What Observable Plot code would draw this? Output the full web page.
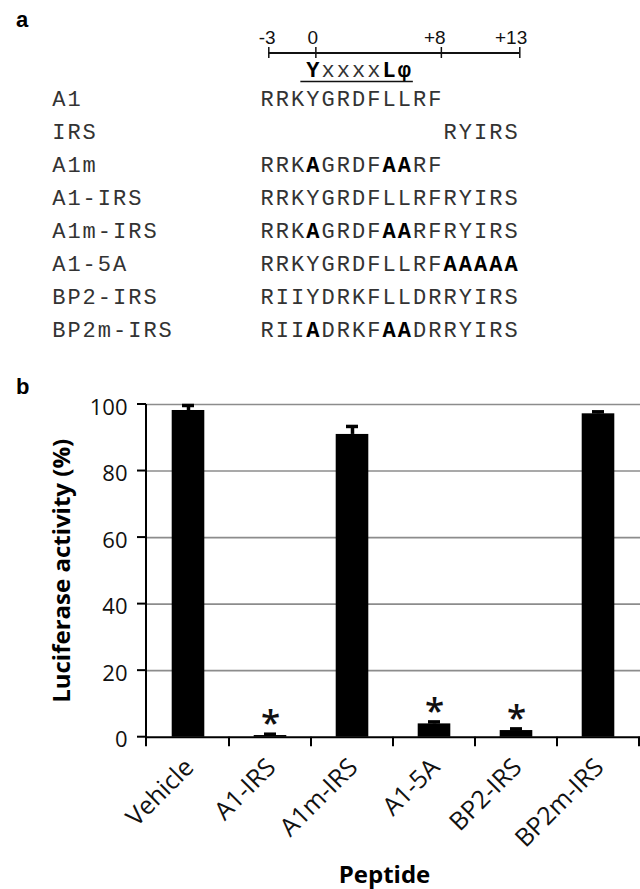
<!DOCTYPE html>
<html><head><meta charset="utf-8">
<script src="https://cdn.jsdelivr.net/npm/d3@7"></script>
<script src="https://cdn.jsdelivr.net/npm/@observablehq/plot@0.6"></script>
<style>
html,body{margin:0;padding:0;background:#fff;}
#wrap{position:relative;width:640px;height:889px;overflow:hidden;background:#fff;}
.plab{position:absolute;left:16px;font:bold 22px "Liberation Sans", Arial, sans-serif;line-height:22px;color:#000;}
</style></head><body>
<div id="wrap"></div>
<script>
// ---------- Panel a data ----------
const peptides = ["A1","IRS","A1m","A1-IRS","A1m-IRS","A1-5A","BP2-IRS","BP2m-IRS"];
const sequences = ["RRKYGRDFLLRF","RYIRS","RRK[A]GRDF[AA]RF","RRKYGRDFLLRFRYIRS","RRK[A]GRDF[AA]RFRYIRS","RRKYGRDFLLRF[AAAAA]","RIIYDRKFLLDRRYIRS","RII[A]DRKF[AA]DRRYIRS"];
const seqStart = [-3, 9, -3, -3, -3, -3, -3, -3];
const motif = "[Y]xxxx[Lφ]";
const motifStart = 0;
const rulerTicks = [-3, 0, 8, 13];
const rulerLabels = ["-3","0","+8","+13"];

// ---------- Panel b data ----------
const categories = ["Vehicle","A1-IRS","A1m-IRS","A1-5A","BP2-IRS","BP2m-IRS"];
const activity = [98.2, 0.5, 91.0, 4.0, 2.0, 97.2];
const errorUp = [1.5, 0.4, 2.4, 0.6, 0.5, 0.6];
const significant = [false, true, false, true, true, false];
const yTicks = [0, 20, 40, 60, 80, 100];
const yTitle = "Luciferase activity (%)";
const xTitle = "Peptide";

function parseSeq(s, start) {
  const out = []; let bold = false; let k = 0;
  for (const ch of s) {
    if (ch === "[") { bold = true; continue; }
    if (ch === "]") { bold = false; continue; }
    out.push({pos: start + k, ch, bold}); k++;
  }
  return out;
}

const monoFont = "Liberation Mono, Courier New, monospace";
const sans = "Open Sans, Noto Sans, sans-serif";

// sequences (with ruler labels and motif)
const rows = [];
peptides.forEach((p, r) => parseSeq(sequences[r], seqStart[r]).forEach(c => rows.push({row: p, ...c})));
const motifChars = parseSeq(motif, motifStart);
const seqText = {lineAnchor: "bottom", fontSize: 22, fontFamily: monoFont};
const seqPlot = Plot.plot({
  width: 640, height: 360,
  marginLeft: 266.6, marginRight: 129.4, marginTop: 105, marginBottom: 24,
  x: {domain: [rulerTicks[0], rulerTicks[rulerTicks.length - 1]], axis: null},
  y: {type: "point", domain: peptides, padding: 0, axis: null},
  marks: [
    Plot.text(rulerTicks, {x: d => d, frameAnchor: "top", text: (d, i) => rulerLabels[i], lineAnchor: "bottom", dy: -62, fontSize: 19, fontFamily: "Liberation Sans, Arial, sans-serif", fill: "#111"}),
    Plot.text(peptides, {y: d => d, frameAnchor: "left", textAnchor: "start", dx: -214.9, ...seqText, fill: "#333"}),
    Plot.text(rows.filter(d => !d.bold), {x: "pos", y: "row", text: "ch", ...seqText, fill: "#333"}),
    Plot.text(rows.filter(d => d.bold), {x: "pos", y: "row", text: "ch", ...seqText, fontWeight: "bold", fill: "#000"}),
    Plot.text(motifChars.filter(d => !d.bold), {x: "pos", frameAnchor: "top", text: "ch", dy: -29, ...seqText, fill: "#333"}),
    Plot.text(motifChars.filter(d => d.bold), {x: "pos", frameAnchor: "top", text: "ch", dy: -29, ...seqText, fontWeight: "bold", fill: "#000"}),
    Plot.ruleY([peptides[0]], {x1: motifStart, x2: motifStart + motifChars.length - 1, dy: -24, insetLeft: -12, insetRight: -9, stroke: "#111", strokeWidth: 1.5})
  ]
});
d3.select(seqPlot).selectAll("text").filter(function() { return this.textContent.length > 1 && !this.textContent.match(/^[-+]?\d+$/); }).attr("letter-spacing", 2);

// ruler line and ticks (overlay)
const ruler = Plot.plot({
  width: 640, height: 60,
  marginLeft: 268.3, marginRight: 120.7, marginTop: 47, marginBottom: 2,
  style: {background: "transparent"},
  x: {domain: [rulerTicks[0], rulerTicks[rulerTicks.length - 1]], axis: null},
  y: {domain: [-1, 1], axis: null},
  marks: [
    Plot.ruleY([0], {x1: rulerTicks[0], x2: rulerTicks[rulerTicks.length - 1], stroke: "#111", strokeWidth: 2}),
    Plot.ruleX(rulerTicks, {y1: -1, y2: 1, stroke: "#111", strokeWidth: 1.5})
  ]
});

// bars
const barData = categories.map((c, i) => ({peptide: c, value: activity[i], err: errorUp[i], sig: significant[i]}));
const axesMark = (index, scales, values, dims) => {
  const {x, y} = scales;
  const g = d3.create("svg:g").attr("stroke", "#000").attr("stroke-width", 2).attr("fill", "none");
  const x0 = dims.marginLeft, y0 = y(0), tick = 9.5;
  g.append("line").attr("x1", x0).attr("x2", x0).attr("y1", y(yTicks[yTicks.length - 1])).attr("y2", y0 + tick);
  for (const t of yTicks) g.append("line").attr("x1", x0 - 9).attr("x2", x0).attr("y1", y(t)).attr("y2", y(t));
  const bw = x.bandwidth();
  for (const c of categories) {
    const b = x(c) + bw;
    g.append("line").attr("x1", b).attr("x2", b).attr("y1", y0).attr("y2", y0 + tick);
  }
  return g.node();
};
const barPlot = Plot.plot({
  width: 640, height: 529,
  marginLeft: 146, marginRight: 0, marginTop: 44, marginBottom: 152.3,
  x: {domain: categories, padding: 0, axis: null},
  y: {domain: [0, 100], axis: null},
  marks: [
    Plot.ruleY(yTicks.filter(t => t > 0), {stroke: "#8c8c8c", strokeWidth: 1.6}),
    Plot.barY(barData, {x: "peptide", y: "value", fill: "#000", insetLeft: 24.7, insetRight: 24.7}),
    Plot.ruleX(barData, {x: "peptide", y1: "value", y2: d => d.value + d.err, stroke: "#000", strokeWidth: 3.5}),
    Plot.tickY(barData, {x: "peptide", y: d => d.value + d.err, stroke: "#000", strokeWidth: 3.5, insetLeft: 35, insetRight: 35}),
    Plot.ruleY([0], {stroke: "#000", strokeWidth: 2}),
    axesMark,
    Plot.text(yTicks, {y: d => d, frameAnchor: "left", textAnchor: "end", dx: -19, dy: 3, fontSize: 22, fontFamily: sans, fill: "#111"}),
    Plot.text(categories, {x: d => d, frameAnchor: "bottom", rotate: -45, textAnchor: "end", lineAnchor: "middle", dx: 1, dy: 26, fontSize: 25, fontFamily: sans, fill: "#111"}),
    Plot.text(barData.filter(d => d.sig), {x: "peptide", y: d => d.value + d.err, text: () => "*", dy: -10.5, fontSize: 35, fontWeight: 600, fontFamily: sans, fill: "#111"}),
    Plot.text([yTitle], {frameAnchor: "left", rotate: -90, textAnchor: "middle", lineAnchor: "middle", dx: -84, fontSize: 24, fontWeight: "bold", fontFamily: sans, fill: "#000"}),
    Plot.text([xTitle], {frameAnchor: "bottom", textAnchor: "middle", lineAnchor: "bottom", dx: -9, dy: 145.3, fontSize: 24, fontWeight: "bold", fontFamily: sans, fill: "#000"})
  ]
});

const wrap = document.getElementById("wrap");
function place(node, top) { node.style.position = "absolute"; node.style.top = top + "px"; node.style.left = "0px"; wrap.appendChild(node); }
place(seqPlot, 0);
place(ruler, 0);
place(barPlot, 360);
for (const [t, top] of [["a", 9.4], ["b", 376.4]]) {
  const d = document.createElement("div");
  d.className = "plab"; d.style.top = top + "px"; d.textContent = t;
  wrap.appendChild(d);
}
</script>
</body></html>
